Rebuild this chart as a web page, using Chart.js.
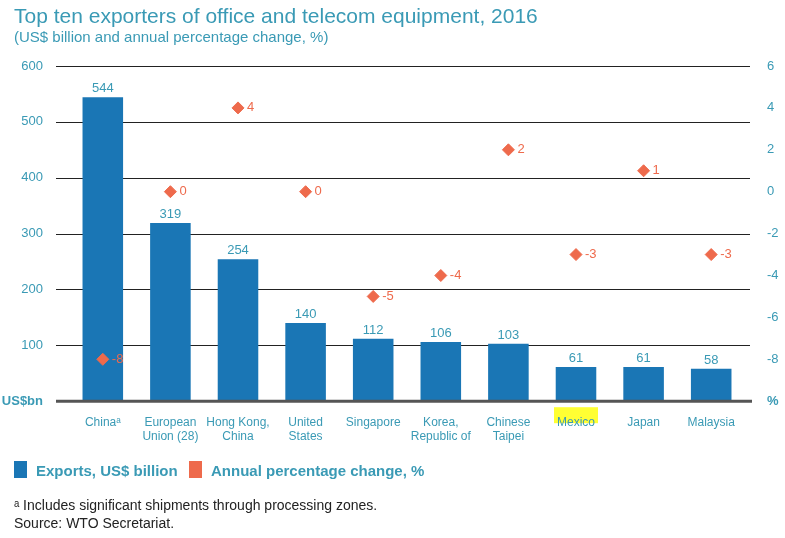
<!DOCTYPE html>
<html><head><meta charset="utf-8">
<script src="https://cdn.jsdelivr.net/npm/chart.js@4/dist/chart.umd.min.js"></script>
<style>
body{margin:0;background:#fff;font-family:"Liberation Sans",Arial,sans-serif;}
#wrap{position:absolute;left:0;top:0;width:785px;height:538px;}
.t{position:absolute;left:14px;top:4px;color:#3A9AB5;font-size:21px;}
.s{position:absolute;left:14px;top:28px;color:#3A9AB5;font-size:15px;}
.lg{position:absolute;top:462px;color:#3A9AB5;font-size:15px;font-weight:bold;}
.sw{position:absolute;top:461px;width:13px;height:17px;}
.f{position:absolute;left:14px;font-size:14px;color:#222;}
</style></head><body>
<div id="wrap"><canvas id="c" width="785" height="538"></canvas></div>
<div class="t">Top ten exporters of office and telecom equipment, 2016</div>
<div class="s">(US$ billion and annual percentage change, %)</div>
<div class="sw" style="left:14px;background:#1A76B5"></div><div class="lg" style="left:36px">Exports, US$ billion</div>
<div class="sw" style="left:189px;background:#EE6A4C"></div><div class="lg" style="left:211px">Annual percentage change, %</div>
<div class="f" style="top:497px">ᵃ Includes significant shipments through processing zones.</div>
<div class="f" style="top:515px">Source: WTO Secretariat.</div>
<script>
const categories=[["Chinaᵃ"],["European","Union (28)"],["Hong Kong,","China"],["United","States"],["Singapore"],["Korea,","Republic of"],["Chinese","Taipei"],["Mexico"],["Japan"],["Malaysia"]];
const exportsBn=[544,319,254,140,112,106,103,61,61,58];
const pctChange=[-8,0,4,0,-5,-4,2,-3,1,-3];
const leftTicks=[0,100,200,300,400,500,600];
const rightTicks=[-10,-8,-6,-4,-2,0,2,4,6];
const teal="#3A9AB5";
const deco={id:'deco',
 beforeDatasetsDraw(ch){const c=ch.ctx,y=ch.scales.y,x=ch.scales.x;c.save();c.strokeStyle="#222";c.lineWidth=1;
  leftTicks.slice(1).forEach(v=>{const py=Math.round(y.getPixelForValue(v))+0.5;c.beginPath();c.moveTo(56,py);c.lineTo(750,py);c.stroke();});
  c.restore();},
 beforeDraw(ch){const c=ch.ctx,x=ch.scales.x;const mx=x.getPixelForValue(7);c.save();c.fillStyle="#FFFF33";c.fillRect(mx-22,ch.chartArea.bottom+6,44,16);c.restore();},
 afterDatasetsDraw(ch){const c=ch.ctx,y=ch.scales.y,x=ch.scales.x,y2=ch.scales.y2;c.save();
  c.strokeStyle="#555";c.lineWidth=3;const py=y.getPixelForValue(0);c.beginPath();c.moveTo(56,py);c.lineTo(752,py);c.stroke();
  c.font="13px 'Liberation Sans', Arial";c.fillStyle=teal;c.textAlign="center";c.textBaseline="bottom";
  exportsBn.forEach((v,i)=>c.fillText(v,x.getPixelForValue(i),y.getPixelForValue(v)-2));
  c.fillStyle="#EE6A4C";c.textAlign="left";c.textBaseline="middle";
  pctChange.forEach((v,i)=>c.fillText(v,x.getPixelForValue(i)+9,y2.getPixelForValue(v)));
  c.restore();}};
const tf=(v,edge)=>({size:13,family:"'Liberation Sans', Arial",weight:v===edge?'bold':'normal'});
new Chart(document.getElementById('c'),{
 data:{labels:categories,datasets:[
  {type:'scatter',data:pctChange.map((v,i)=>({x:i,y:v})),yAxisID:'y2',xAxisID:'x',pointStyle:'rectRot',pointRadius:6,pointHoverRadius:6,backgroundColor:"#EE6A4C",borderColor:"#EE6A4C",order:0},
  {type:'bar',data:exportsBn,yAxisID:'y',backgroundColor:"#1A76B5",categoryPercentage:1,barPercentage:0.6,order:1}]},
 options:{responsive:false,animation:false,events:[],
  layout:{padding:{left:0,right:0,top:66,bottom:88}},
  plugins:{legend:{display:false},tooltip:{enabled:false}},
  scales:{
   x:{type:'category',offset:true,grid:{display:false},border:{display:false},
      ticks:{color:teal,font:{size:12,family:"'Liberation Sans', Arial"},padding:6,maxRotation:0,autoSkip:false}},
   y:{position:'left',min:0,max:600,afterFit(s){s.width=69;},grid:{display:false},border:{display:false},
      afterBuildTicks(s){s.ticks=leftTicks.map(v=>({value:v}));},
      ticks:{color:teal,padding:18,font:c=>tf(c.tick&&c.tick.value,0),callback:v=>v===0?"US$bn":v}},
   y2:{position:'right',min:-10,max:6,afterFit(s){s.width=40;},grid:{display:false},border:{display:false},
      afterBuildTicks(s){s.ticks=rightTicks.map(v=>({value:v}));},
      ticks:{color:teal,padding:14,font:c=>tf(c.tick&&c.tick.value,-10),callback:v=>v===-10?"%":v}}
  }},plugins:[deco]});
</script></body></html>
